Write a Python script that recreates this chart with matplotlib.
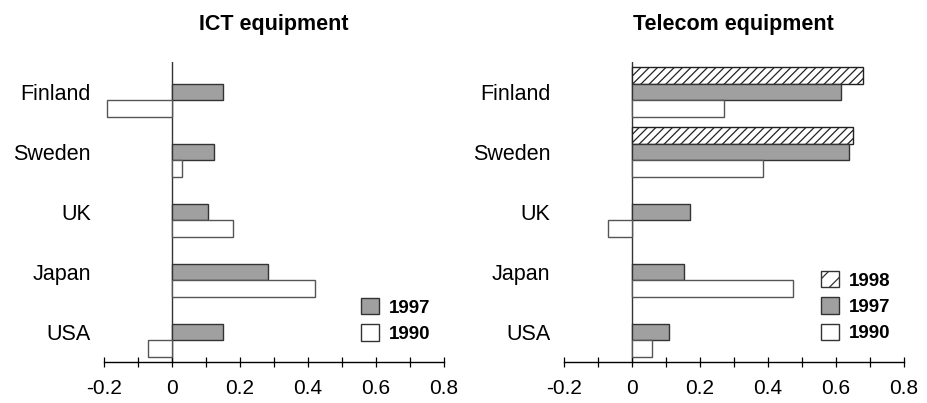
import numpy as np
import matplotlib
matplotlib.use('Agg')
import matplotlib.pyplot as plt
from matplotlib.patches import Patch

plt.rcParams['font.family'] = ['Liberation Sans', 'DejaVu Sans']

countries = ['Finland', 'Sweden', 'UK', 'Japan', 'USA']

# ICT equipment
ict_1997 = [0.15, 0.125, 0.107, 0.283, 0.15]
ict_1990 = [-0.19, 0.028, 0.18, 0.42, -0.072]

# Telecom equipment (1998 only for Finland, Sweden)
tel_1998 = [0.681, 0.651, None, None, None]
tel_1997 = [0.617, 0.64, 0.172, 0.153, 0.111]
tel_1990 = [0.272, 0.387, -0.071, 0.475, 0.059]

xtick_vals = [-0.2, 0, 0.2, 0.4, 0.6, 0.8]
xtick_labels = ['-0.2', '0', '0.2', '0.4', '0.6', '0.8']

W, H = 928, 403
fig = plt.figure(figsize=(W / 100, H / 100), dpi=100)

gray = '#a0a0a0'
h = 16.67 / 60  # bar height in group units
y = np.arange(len(countries))
plt.rcParams['hatch.linewidth'] = 0.9


def setup(ax, title):
    ax.set_xlim(-0.2, 0.8)
    ax.set_ylim(4.505, -0.505)
    for s in ['left', 'right', 'top']:
        ax.spines[s].set_visible(False)
    ax.spines['bottom'].set_linewidth(1.0)
    ax.axvline(0, color='#333333', lw=1.0, zorder=1)
    ax.set_xticks(xtick_vals)
    ax.set_xticklabels(xtick_labels, fontsize=15)
    ax.set_xticks(np.arange(-0.1, 0.8, 0.2), minor=True)
    ax.tick_params(axis='x', which='both', direction='inout', length=6.5,
                   width=0.9, pad=9)
    ax.set_yticks(y)
    ax.set_yticklabels(countries, fontsize=15.5)
    ax.tick_params(axis='y', length=0, pad=9.5)
    ax.set_title(title, fontsize=15.5, fontweight='bold', pad=23)


def legend(ax, x0, y0, items):
    handles = []
    for lab, fc, hatch in items:
        handles.append(Patch(facecolor=fc, edgecolor='#333333', hatch=hatch,
                             lw=1.0, label=lab))
    ax.legend(handles=handles, loc='upper left',
              bbox_to_anchor=(x0 / W, 1 - y0 / H),
              bbox_transform=fig.transFigure, frameon=False,
              handlelength=0.95, handleheight=0.95, handletextpad=0.55,
              labelspacing=0.42, borderpad=0, borderaxespad=0,
              prop={'size': 13.5, 'weight': 'bold'})


# left panel
ax1 = fig.add_axes([104 / W, 40.7 / H, 340 / W, 300.6 / H])
setup(ax1, 'ICT equipment')
ax1.barh(y, ict_1997, height=h, color=gray, edgecolor='#333333', lw=1.0, zorder=2)
ax1.barh(y + h, ict_1990, height=h, color='white', edgecolor='#555555', lw=1.0, zorder=2)
legend(ax1, 361, 298, [('1997', gray, None), ('1990', 'white', None)])

# right panel
ax2 = fig.add_axes([563.7 / W, 40.7 / H, 340 / W, 300.6 / H])
setup(ax2, 'Telecom equipment')
idx98 = [i for i, v in enumerate(tel_1998) if v is not None]
ax2.barh(y[idx98] - h, [tel_1998[i] for i in idx98], height=h, color='white',
         edgecolor='#222222', hatch='////', lw=1.0, zorder=2)
ax2.barh(y, tel_1997, height=h, color=gray, edgecolor='#333333', lw=1.0, zorder=2)
ax2.barh(y + h, tel_1990, height=h, color='white', edgecolor='#555555', lw=1.0, zorder=2)
legend(ax2, 821, 271, [('1998', 'white', '//'), ('1997', gray, None),
                       ('1990', 'white', None)])

fig.savefig('out.png', dpi=100)
